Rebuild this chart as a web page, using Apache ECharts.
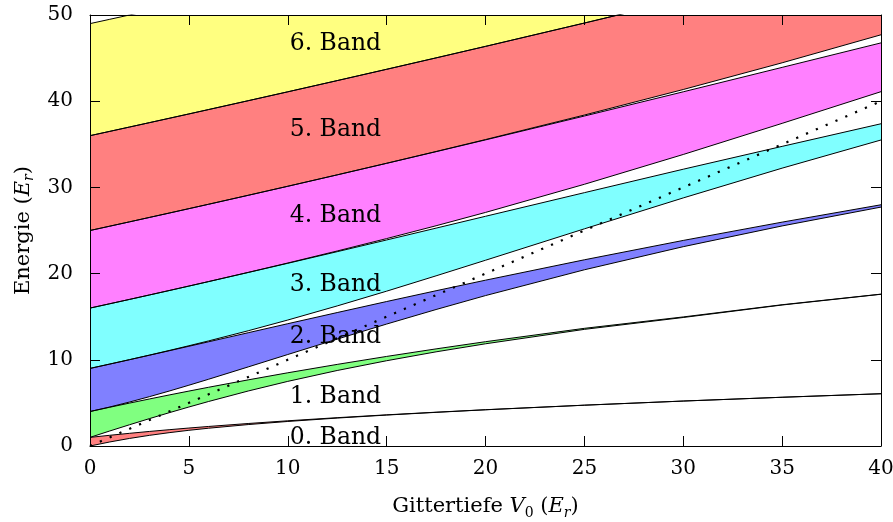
<!DOCTYPE html>
<html><head><meta charset="utf-8">
<script src="https://cdn.jsdelivr.net/npm/echarts@6/dist/echarts.min.js"></script>
<style>html,body{margin:0;padding:0;background:#fff}#c{width:893px;height:522px}</style>
</head><body><div id="c"></div>
<script>
// Gittertiefe V0 (E_r) sample positions
const depth = [0, 1, 2, 3, 4, 5, 6, 8, 10, 12.5, 15, 17.5, 20, 25, 30, 35, 40];

// Band edges (Energie in E_r)
const band0Low  = [0, 0.469, 0.878, 1.234, 1.545, 1.820, 2.063, 2.486, 2.846, 3.240, 3.589, 3.904, 4.200, 4.733, 5.214, 5.654, 6.063];
const band0High = [1, 1.242, 1.471, 1.686, 1.890, 2.083, 2.267, 2.609, 2.924, 3.285, 3.616, 3.922, 4.210, 4.735, 5.215, 5.655, 6.064];
const band1Low  = [1, 1.742, 2.467, 3.173, 3.859, 4.524, 5.166, 6.379, 7.496, 8.760, 9.893, 10.924, 11.858, 13.531, 14.909, 16.356, 17.601];
const band1High = [4, 4.495, 4.979, 5.453, 5.917, 6.371, 6.814, 7.672, 8.493, 9.467, 10.391, 11.267, 12.100, 13.650, 14.973, 16.389, 17.618];
const band2Low  = [4, 4.526, 5.101, 5.719, 6.371, 7.050, 7.747, 9.173, 10.613, 12.400, 14.146, 15.833, 17.449, 20.443, 23.123, 25.530, 27.717];
const band2High = [9, 9.504, 10.014, 10.529, 11.048, 11.569, 12.092, 13.141, 14.186, 15.480, 16.760, 18.012, 19.236, 21.602, 23.848, 25.970, 27.985];
const band3Low  = [9, 9.504, 10.018, 10.542, 11.078, 11.629, 12.193, 13.370, 14.612, 16.250, 17.963, 19.740, 21.549, 25.193, 28.780, 32.233, 35.500];
const band3High = [16, 16.502, 17.008, 17.519, 18.033, 18.551, 19.073, 20.128, 21.195, 22.543, 23.903, 25.275, 26.648, 29.390, 32.110, 34.760, 37.383];
const band4Low  = [16, 16.502, 17.008, 17.519, 18.034, 18.553, 19.078, 20.141, 21.227, 22.623, 24.062, 25.551, 27.097, 30.360, 33.820, 37.430, 41.107];
const band4High = [25, 25.501, 26.005, 26.512, 27.021, 27.533, 28.047, 29.083, 30.130, 31.453, 32.791, 34.143, 35.511, 38.281, 41.090, 43.923, 46.766];
const band5Low  = [25, 25.501, 26.005, 26.512, 27.021, 27.533, 28.047, 29.084, 30.131, 31.457, 32.801, 34.165, 35.550, 38.394, 41.356, 44.455, 47.705];
const band5High = [36, 36.501, 37.004, 37.508, 38.014, 38.522, 39.032, 40.057, 41.089, 42.390, 43.702, 45.025, 46.360, 49.065, 51.817, 54.619, 57.471];
const band6Low  = [36, 36.501, 37.004, 37.508, 38.014, 38.522, 39.032, 40.057, 41.089, 42.390, 43.702, 45.025, 46.360, 49.065, 51.817, 54.619, 57.471];
const band6High = [49, 49.501, 50.003, 50.506, 51.010, 51.516, 52.023, 53.042, 54.065, 55.352, 56.647, 57.949, 59.260, 61.907, 64.586, 67.298, 70.042];

// Dotted reference line E = V0
const diagonalX = [0, 40];
const diagonalY = [0, 40];

const bandNames  = ['0. Band', '1. Band', '2. Band', '3. Band', '4. Band', '5. Band', '6. Band'];
const bandColors = ['#ff8080', '#80ff80', '#8080ff', '#80ffff', '#ff80ff', '#ff8080', '#ffff80'];
const labelX = 10.1;
const labelY = [0.95, 5.75, 12.65, 18.65, 26.65, 36.65, 46.65];

const lows  = [band0Low, band1Low, band2Low, band3Low, band4Low, band5Low, band6Low];
const highs = [band0High, band1High, band2High, band3High, band4High, band5High, band6High];

const FONT = 'DejaVu Serif';
const series = [];

// filled bands: from the top band downwards, fill below the upper edge with the
// band colour, then below the lower edge with white (gap)
for (let b = lows.length - 1; b >= 0; b--) {
  [[highs[b], bandColors[b]], [lows[b], '#ffffff']].forEach(([edge, col]) => {
    series.push({
      type: 'line', silent: true, symbol: 'none', z: 2,
      data: depth.map((x, j) => [x, edge[j]]),
      lineStyle: { width: 0, opacity: 0 },
      areaStyle: { color: col, opacity: 1, origin: 'start' }
    });
  });
}

// edge lines
lows.concat(highs).forEach(edge => {
  series.push({
    type: 'line', silent: true, symbol: 'none', z: 4,
    data: depth.map((x, j) => [x, edge[j]]),
    lineStyle: { color: '#000', width: 1 }
  });
});

// dotted line
series.push({
  type: 'line', silent: true, symbol: 'none', z: 5,
  data: diagonalX.map((x, j) => [x, diagonalY[j]]),
  lineStyle: { color: '#000', width: 2.2, type: [2.2, 8.5], cap: 'butt', opacity: 1 }
});

// band labels
series.push({
  type: 'scatter', silent: true, symbolSize: 0, z: 6,
  itemStyle: { opacity: 1 },
  data: labelY.map((y, i) => ({ value: [labelX, y], name: bandNames[i] })),
  label: {
    show: true, position: 'right', distance: 0,
    formatter: p => p.name, opacity: 1, textBorderWidth: 0,
    fontFamily: FONT, fontSize: 23.5, color: '#000'
  }
});

const nameRich = {
  i:  { fontFamily: FONT, fontSize: 21, fontStyle: 'italic', color: '#000', lineHeight: 26 },
  s:  { fontFamily: FONT, fontSize: 14, color: '#000', lineHeight: 14, verticalAlign: 'bottom' },
  si: { fontFamily: FONT, fontSize: 14, fontStyle: 'italic', color: '#000', lineHeight: 14, verticalAlign: 'bottom' }
};

const axisCommon = {
  type: 'value', z: 10,
  axisLine: { show: true, onZero: false, lineStyle: { color: '#000', width: 1 } },
  axisTick: { show: true, inside: true, length: 10, lineStyle: { color: '#000', width: 1 } },
  splitLine: { show: false }
};

const option = {
  animation: false,
  backgroundColor: '#fff',
  grid: { left: 90, right: 12, top: 15, bottom: 76, containLabel: false, outerBoundsMode: 'none' },
  xAxis: [
    Object.assign({}, axisCommon, {
      position: 'bottom', min: 0, max: 40, interval: 5,
      axisLabel: { show: true, margin: 13, fontFamily: FONT, fontSize: 20, color: '#000', showMinLabel: true, showMaxLabel: true },
      name: 'Gittertiefe {i|V}{s|0} ({i|E}{si|r})',
      nameLocation: 'middle', nameGap: 48,
      nameTextStyle: { fontFamily: FONT, fontSize: 21, color: '#000', lineHeight: 26, rich: nameRich }
    }),
    Object.assign({}, axisCommon, {
      position: 'top', min: 0, max: 40, interval: 5,
      axisLabel: { show: false }
    })
  ],
  yAxis: [
    Object.assign({}, axisCommon, {
      position: 'left', min: 0, max: 50, interval: 10,
      axisLabel: { show: true, margin: 17, fontFamily: FONT, fontSize: 20, color: '#000', showMinLabel: true, showMaxLabel: true },
      name: 'Energie ({i|E}{si|r})',
      nameLocation: 'middle', nameGap: 52,
      nameTextStyle: { fontFamily: FONT, fontSize: 21, color: '#000', lineHeight: 26, rich: nameRich }
    }),
    Object.assign({}, axisCommon, {
      position: 'right', min: 0, max: 50, interval: 10,
      axisLabel: { show: false }
    })
  ],
  series: series
};

const chart = echarts.init(document.getElementById('c'), null, { renderer: 'canvas' });
chart.setOption(option);
</script>
</body></html>
